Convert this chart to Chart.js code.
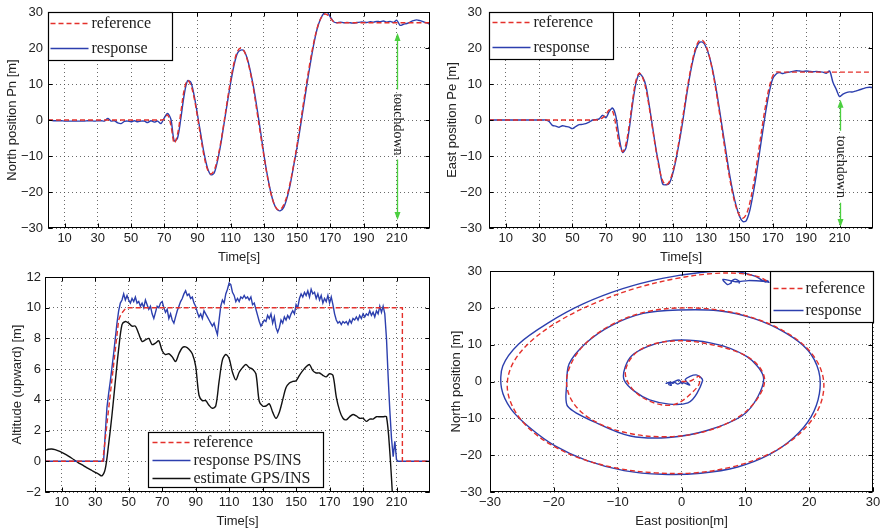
<!DOCTYPE html>
<html>
<head>
<meta charset="utf-8">
<script src="https://cdn.jsdelivr.net/npm/chart.js@4/dist/chart.umd.min.js"></script>
<style>
  body { margin: 0; background: #fff; width: 887px; height: 531px; position: relative; overflow: hidden; }
  canvas { position: absolute; }
</style>
</head>
<body>
<canvas id="pn" width="440" height="265" style="left:0;top:0;width:440px;height:265px"></canvas>
<canvas id="pe" width="447" height="265" style="left:440px;top:0;width:447px;height:265px"></canvas>
<canvas id="alt" width="440" height="266" style="left:0;top:265px;width:440px;height:266px"></canvas>
<canvas id="xy" width="447" height="266" style="left:440px;top:265px;width:447px;height:266px"></canvas>
<script>
// ---- data ----
const timeTicks = [10, 30, 50, 70, 90, 110, 130, 150, 170, 190, 210];

// sample times for the position traces: 0, 2, 4 ... 230 s
const time = [];
for (let t = 0; t <= 230; t += 2) time.push(t);

// north position [m], one row = 20 s
const refN = [
  0, 0, 0, 0, 0, 0, 0, 0, 0, 0,
  0, 0, 0, 0, 0, 0, 0, 0, 0, 0,
  0, 0, 0, 0, 0, 0, 0, 0, 0, 0,
  0, 0, 0, 0, 0, 0.2, 1.4, -1.5, -6.4, -3.9,
  2.2, 8.4, 11, 9.7, 6.1, 0.9, -4.9, -10.1, -13.7, -15,
  -14, -10.9, -6.2, -0.5, 5.5, 11.2, 15.9, 19, 20, 19.2,
  16.7, 12.8, 7.8, 1.8, -4.2, -10, -15.5, -20, -23.1, -24.8,
  -24.8, -23.5, -20.9, -17, -12.2, -6.7, -0.8, 5.3, 11.2, 16.7,
  21.5, 25.4, 28, 29.3, 29.3, 28.3, 27.3, 27, 27, 27,
  27, 27, 27, 27, 27, 27, 27, 27, 27, 27,
  27, 27, 27, 27, 27, 27, 27, 27, 27, 27,
  27, 27, 27, 27, 27, 27
];
const resN = [
  0, -0.1, -0.2, -0.2, -0.2, -0.3, -0.3, -0.3, -0.3, -0.3,
  -0.3, -0.3, -0.2, -0.2, -0.3, -0.2, -0.2, -0.3, 0.4, -0.3,
  -0.2, -0.8, -1.0, -0.4, -0.3, -0.5, -0.2, -0.5, -0.3, -0.3,
  -0.7, -0.2, -0.6, -0.3, -1.0, 0.6, 1.8, 0.2, -5.8, -5,
  0.5, 7, 10.9, 10.5, 6.8, 1.5, -4, -9.3, -13.3, -15.2,
  -14.8, -11.5, -6.8, -1, 4.8, 10.4, 15.2, 18.5, 19.4, 19.2,
  17, 13.2, 8.5, 2.8, -3.3, -9.6, -15.2, -19.8, -23.2, -24.9,
  -25.2, -24.2, -21.5, -17.5, -12.5, -7.5, -1.8, 4.2, 10.2, 15.8,
  21, 25.2, 28, 29.6, 30, 28.6, 27.3, 27, 27.2, 27,
  27.1, 27, 26.9, 27.1, 27.2, 27.2, 27.1, 27.3, 27.2, 27.4,
  27.3, 27.5, 27.2, 27.4, 27.1, 27.7, 26.3, 26.6, 26.8, 27.2,
  27.6, 27.8, 27.6, 27.3, 27, 26.6
];

// east position [m]
const refE = [
  0, 0, 0, 0, 0, 0, 0, 0, 0, 0,
  0, 0, 0, 0, 0, 0, 0, 0, 0, 0,
  0, 0, 0, 0, 0, 0, 0, 0, 0, 0,
  0, 0, 0, 0.2, 0.6, 1.5, 2.8, 2.5, -1.5, -6.5,
  -8.8, -6.7, -1.3, 5.5, 10.9, 13, 11.8, 8.5, 3.4, -2.5,
  -8.4, -13.5, -16.8, -18, -17.1, -14.5, -10.4, -5.3, 0.6, 6.6,
  12.2, 16.9, 20.3, 22.1, 22.1, 20.6, 17.6, 13.3, 8.1, 2.1,
  -4.1, -10.2, -15.8, -20.6, -24.2, -26.5, -27.3, -26.3, -23.4, -18.9,
  -13.3, -7, -0.7, 4.9, 9.4, 12.3, 13.3, 13.3, 13.3, 13.3,
  13.3, 13.3, 13.3, 13.3, 13.3, 13.3, 13.3, 13.3, 13.3, 13.3,
  13.3, 13.3, 13.3, 13.3, 13.3, 13.3, 13.3, 13.3, 13.3, 13.3,
  13.3, 13.3, 13.3, 13.3, 13.3, 13.3
];
const resE = [
  0, 0, 0, 0, 0, 0, 0, 0, 0, 0,
  0, 0, 0, 0, 0, 0, 0, 0, -0.4, -1.5,
  -1.7, -2.0, -1.6, -1.8, -2.0, -2.4, -1.8, -1.3, -1.2, -1.0,
  -0.6, 0, 0.1, 0.3, 1.3, 0.6, 2.3, 3.3, 1, -5,
  -9, -7.8, -2.5, 4.5, 10.2, 12.8, 12, 9.5, 4, -2,
  -8, -13, -17.8, -18, -17.6, -15, -11, -6, -0.5, 5.8,
  11.5, 16.3, 19.8, 21.5, 21.6, 20.3, 17.6, 13.8, 8.8, 3,
  -3, -9, -14.8, -19.8, -23.8, -26.7, -28.2, -28, -25.5, -21,
  -15.5, -9.2, -3, 3, 8, 11.5, 12.8, 13.2, 12.9, 13.2,
  13.3, 13.5, 13.7, 13.6, 13.5, 13.6, 13.5, 13.4, 13.5, 13.4,
  13.3, 13, 13.6, 10.5, 8.5, 6.5, 7.2, 7.6, 7.8, 7.8,
  8.1, 8.4, 8.7, 9, 9.1, 9
];

// altitude reference [m]
const altRefT = [0, 34.5, 44, 45.5, 48.5, 213.5, 213.5, 230];
const altRef = [0, 0, 9.2, 9.6, 10, 10, 0, 0];

// altitude response PS/INS, 1 s steps from 35 s to 211 s
const altRespT = [0];
for (let t = 35; t <= 211; t++) altRespT.push(t);
altRespT.push(230);
const altResp = [0,
  0, 1.8, 3.5, 4.4, 5.2, 6.1, 7.0, 8.0, 9.0, 9.8,
  10.3, 10.5, 10.9, 10.5, 10.8, 10.5, 10.3, 10.6, 10.4, 10.7,
  10.3, 10.4, 10.1, 10.3, 10.0, 10.5, 10.2, 9.9, 10.1, 9.6,
  9.3, 9.7, 10.1, 10.0, 10.3, 10.4, 10.0, 9.7, 9.9, 9.3,
  9.6, 9.2, 9.0, 9.4, 9.8, 10.1, 10.4, 10.6, 10.9, 11.1,
  10.8, 10.9, 10.6, 10.7, 10.3, 10.1, 9.7, 9.4, 9.6, 9.3,
  9.8, 9.6, 9.4, 9.2, 9.0, 8.8, 9.0, 8.6, 8.25, 9.2,
  10.1, 10.5, 10.3, 10.9, 11.2, 11.6, 11.5, 11.0, 10.8, 10.4,
  10.6, 10.4, 10.7, 10.6, 10.8, 10.6, 10.7, 10.5, 10.7, 10.2,
  10.3, 9.9, 9.5, 9.1, 8.8, 9.0, 9.2, 9.1, 9.5, 9.3,
  9.6, 9.0, 9.4, 8.7, 8.4, 8.7, 9.2, 9.0, 9.4, 9.2,
  9.5, 9.3, 9.6, 9.8, 9.6, 10.2, 10.0, 10.6, 10.9, 10.7,
  11.0, 10.8, 11.1, 10.7, 11.2, 10.9, 11.0, 10.6, 10.9, 10.5,
  10.8, 10.3, 10.6, 10.4, 10.8, 10.3, 10.7, 10.2, 9.6, 9.2,
  9.0, 9.1, 8.9, 9.1, 9.0, 9.1, 8.9, 9.2, 9.0, 9.3,
  9.2, 9.4, 9.2, 9.5, 9.3, 9.6, 9.4, 9.6, 9.5, 9.8,
  9.5, 9.7, 9.4, 9.8, 9.6, 10.1, 9.7, 10.1, 9.6, 8.0,
  5.5, 3.3, 1.5, 0.3, 1.3, 0.1, 0,
  0];

// altitude estimate GPS/INS, 2 s steps from 0 to 208 s
const gpsT = [];
for (let t = 0; t <= 208; t += 2) gpsT.push(t);
const gpsAlt = [
  0.7, 0.78, 0.8, 0.76, 0.68, 0.58, 0.47, 0.34, 0.2, 0.05,
  -0.1, -0.22, -0.35, -0.48, -0.6, -0.72, -0.83, -0.95, -0.5, 1.1,
  3.0, 5.2, 7.3, 8.9, 9.1, 9.0, 8.8, 8.8, 8.3, 7.8,
  7.9, 8.0, 7.6, 7.7, 7.85, 7.2, 6.95, 7.0, 6.8, 6.5,
  7.0, 7.4, 7.45, 7.3, 7.0, 6.2, 4.3, 3.95, 3.95, 3.65,
  3.45, 3.6, 5.2, 6.6, 6.95, 6.7, 5.8, 5.3, 5.8, 6.1,
  6.3, 6.1, 6.0, 5.7, 3.9, 3.6, 3.6, 3.75, 3.2, 2.8,
  3.2, 4.0, 4.8, 5.1, 5.2, 5.25, 5.6, 5.9, 6.15, 6.3,
  5.9, 5.75, 5.75, 5.6, 5.5, 5.7, 5.6, 4.2, 3.3, 2.8,
  2.7, 2.9, 3.05, 2.95, 2.8, 2.8, 2.6, 2.75, 2.75, 2.9,
  2.9, 2.9, 2.9, 0.6, -3.0
];

// ---- styling ----
const RED = '#e4302b', BLUE = '#2c3fae', BLACK = '#111', GREEN = '#4bcf3f', TXT = '#222';
const sans = "'Liberation Sans', Arial, sans-serif";
const serif = "'Liberation Serif', 'Times New Roman', serif";
const minus = v => (v < 0 ? '\u2212' + (-v) : String(v));
const pts = (xs, ys) => xs.map((x, i) => ({ x, y: ys[i] }));

function line(label, data, color, dashed, tension) {
  return {
    label, data, borderColor: color, borderWidth: 1.4,
    borderDash: dashed ? [5, 3] : [], pointRadius: 0, tension, fill: false
  };
}

const gridOpts = { color: '#444', lineWidth: 0.8, drawTicks: false };
const borderOpts = { display: false, dash: [1, 3] };

function hAxis(min, max, h, title, titleBottom, ticks) {
  return {
    type: 'linear', min, max,
    afterBuildTicks: ticks ? s => { s.ticks = ticks.map(v => ({ value: v })); } : undefined,
    afterFit: s => { s.height = h; s.paddingLeft = 0; s.paddingRight = 0; },
    grid: gridOpts, border: borderOpts,
    ticks: { stepSize: 10, autoSkip: false, maxRotation: 0, color: TXT, padding: 3,
             font: { family: sans, size: 13 }, callback: minus },
    title: { display: true, text: title, color: TXT, font: { family: sans, size: 13 },
             padding: { top: 0, bottom: titleBottom } }
  };
}

function vAxis(min, max, step, w, title, titlePad, tickPad) {
  return {
    type: 'linear', min, max,
    afterFit: s => { s.width = w; s.paddingTop = 0; s.paddingBottom = 0; },
    grid: gridOpts, border: borderOpts,
    ticks: { stepSize: step, color: TXT, padding: tickPad, font: { family: sans, size: 13 }, callback: minus },
    title: { display: true, text: title, color: TXT, font: { family: sans, size: 13 },
             padding: { top: titlePad, bottom: 0 } }
  };
}

// black box round the plot area, with short inward ticks on all sides
const framePlugin = {
  id: 'frame',
  afterDatasetsDraw(chart) {
    const { ctx, chartArea: a, scales: { x, y } } = chart;
    const L = Math.round(a.left) + 0.5, T = Math.round(a.top) + 0.5;
    const R = Math.round(a.right) - 0.5, B = Math.round(a.bottom) - 0.5;
    ctx.save();
    ctx.strokeStyle = '#000';
    ctx.lineWidth = 1;
    ctx.strokeRect(L, T, R - L, B - T);
    ctx.beginPath();
    x.ticks.forEach(t => {
      const px = Math.round(x.getPixelForValue(t.value)) + 0.5;
      ctx.moveTo(px, B); ctx.lineTo(px, B - 4);
      ctx.moveTo(px, T); ctx.lineTo(px, T + 4);
    });
    y.ticks.forEach(t => {
      const py = Math.round(y.getPixelForValue(t.value)) + 0.5;
      ctx.moveTo(L, py); ctx.lineTo(L + 4, py);
      ctx.moveTo(R, py); ctx.lineTo(R - 4, py);
    });
    ctx.stroke();
    ctx.restore();
  }
};

// green double arrow with the rotated "touchdown" label
const touchdownPlugin = {
  id: 'touchdown',
  afterDatasetsDraw(chart, args, o) {
    if (o.x === undefined) return;
    const { ctx, scales: { x, y } } = chart;
    const px = Math.round(x.getPixelForValue(o.x)) + 0.5;
    const yTop = y.getPixelForValue(o.top), yBot = y.getPixelForValue(o.bottom);
    const gTop = y.getPixelForValue(o.gapTop), gBot = y.getPixelForValue(o.gapBottom);
    ctx.save();
    ctx.strokeStyle = GREEN;
    ctx.fillStyle = GREEN;
    ctx.lineWidth = 1.3;
    ctx.beginPath();
    ctx.moveTo(px, yTop + 6); ctx.lineTo(px, gTop);
    ctx.moveTo(px, gBot); ctx.lineTo(px, yBot - 6);
    ctx.stroke();
    ctx.beginPath();
    ctx.moveTo(px, yTop); ctx.lineTo(px - 3, yTop + 8); ctx.lineTo(px + 3, yTop + 8); ctx.closePath();
    ctx.moveTo(px, yBot); ctx.lineTo(px - 3, yBot - 8); ctx.lineTo(px + 3, yBot - 8); ctx.closePath();
    ctx.fill();
    ctx.translate(px, (gTop + gBot) / 2);
    ctx.rotate(Math.PI / 2);
    ctx.fillStyle = TXT;
    ctx.font = '14px ' + serif;
    ctx.textAlign = 'center';
    ctx.textBaseline = 'middle';
    ctx.fillText(o.text, 0, 0);
    ctx.restore();
  }
};

// matlab style boxed legend inside the axes
const boxLegendPlugin = {
  id: 'boxLegend',
  afterDatasetsDraw(chart, args, o) {
    if (!o.box) return;
    const { ctx, chartArea: a } = chart;
    const bx = Math.round(a.left + o.box[0]) + 0.5, by = Math.round(a.top + o.box[1]) + 0.5;
    ctx.save();
    ctx.fillStyle = '#fff';
    ctx.fillRect(bx, by, o.box[2], o.box[3]);
    ctx.strokeStyle = '#000';
    ctx.lineWidth = 1.2;
    ctx.strokeRect(bx, by, o.box[2], o.box[3]);
    ctx.font = '16px ' + serif;
    ctx.textBaseline = 'middle';
    chart.data.datasets.forEach((ds, i) => {
      const cy = by + o.rows[i];
      ctx.strokeStyle = ds.borderColor;
      ctx.lineWidth = 1.5;
      ctx.setLineDash(ds.borderDash || []);
      ctx.beginPath();
      ctx.moveTo(bx + o.line[0], cy);
      ctx.lineTo(bx + o.line[1], cy);
      ctx.stroke();
      ctx.setLineDash([]);
      ctx.fillStyle = TXT;
      ctx.fillText(ds.label, bx + o.textX, cy);
    });
    ctx.restore();
  }
};

Chart.register(framePlugin, touchdownPlugin, boxLegendPlugin);

function options(pad, xAx, yAx, legendOpts, touchdownOpts) {
  return {
    responsive: false, animation: false, devicePixelRatio: 1,
    layout: { padding: Object.assign({ left: 0, right: 0, top: 0, bottom: 0 }, pad) },
    scales: { x: xAx, y: yAx },
    plugins: {
      legend: { display: false },
      tooltip: { enabled: false },
      boxLegend: legendOpts,
      touchdown: touchdownOpts || {}
    }
  };
}

// North position vs time
new Chart(document.getElementById('pn'), {
  type: 'line',
  data: { datasets: [
    line('reference', pts(time, refN), RED, true, 0.35),
    line('response', pts(time, resN), BLUE, false, 0.3)
  ] },
  options: options({ top: 12, right: 10 },
    hAxis(0, 230, 37, 'Time[s]', 0, timeTicks),
    vAxis(-30, 30, 10, 48, 'North position Pn [m]', 5, 5),
    { box: [0, 0, 124, 48], rows: [11, 36], line: [2, 40], textX: 43 },
    { x: 210, top: 24.2, bottom: -27.8, gapTop: 8.5, gapBottom: -11, text: 'touchdown' })
});

// East position vs time
new Chart(document.getElementById('pe'), {
  type: 'line',
  data: { datasets: [
    line('reference', pts(time, refE), RED, true, 0.35),
    line('response', pts(time, resE), BLUE, false, 0.3)
  ] },
  options: options({ top: 12, right: 14 },
    hAxis(0, 230, 37, 'Time[s]', 0, timeTicks),
    vAxis(-30, 30, 10, 49, 'East position Pe [m]', 5, 7),
    { box: [0, 0, 124, 47], rows: [10, 35], line: [3, 41], textX: 44 },
    { x: 210, top: 5.6, bottom: -29.7, gapTop: -3, gapBottom: -23, text: 'touchdown' })
});

// Altitude vs time
new Chart(document.getElementById('alt'), {
  type: 'line',
  data: { datasets: [
    line('reference', pts(altRefT, altRef), RED, true, 0),
    line('response PS/INS', pts(altRespT, altResp), BLUE, false, 0),
    line('estimate GPS/INS', pts(gpsT, gpsAlt), BLACK, false, 0.3)
  ] },
  options: options({ top: 12, right: 10 },
    hAxis(0, 230, 39, 'Time[s]', 2, timeTicks),
    vAxis(-2, 12, 2, 45, 'Altitude (upward) [m]', 10, 4),
    { box: [103, 155, 175, 55], rows: [10, 28, 46], line: [4, 42], textX: 45 })
});

// North vs East track
new Chart(document.getElementById('xy'), {
  type: 'scatter',
  data: { datasets: [
    Object.assign(line('reference', pts(refE, refN), RED, true, 0.35), { showLine: true }),
    Object.assign(line('response', pts(resE, resN), BLUE, false, 0.3), { showLine: true })
  ] },
  options: options({ top: 6, right: 14 },
    hAxis(-30, 30, 39, 'East position[m]', 2),
    vAxis(-30, 30, 10, 50, 'North position [m]', 9, 8),
    { box: [280, 0, 103, 51], rows: [17, 39], line: [3, 33], textX: 35 })
});
</script>
</body>
</html>
